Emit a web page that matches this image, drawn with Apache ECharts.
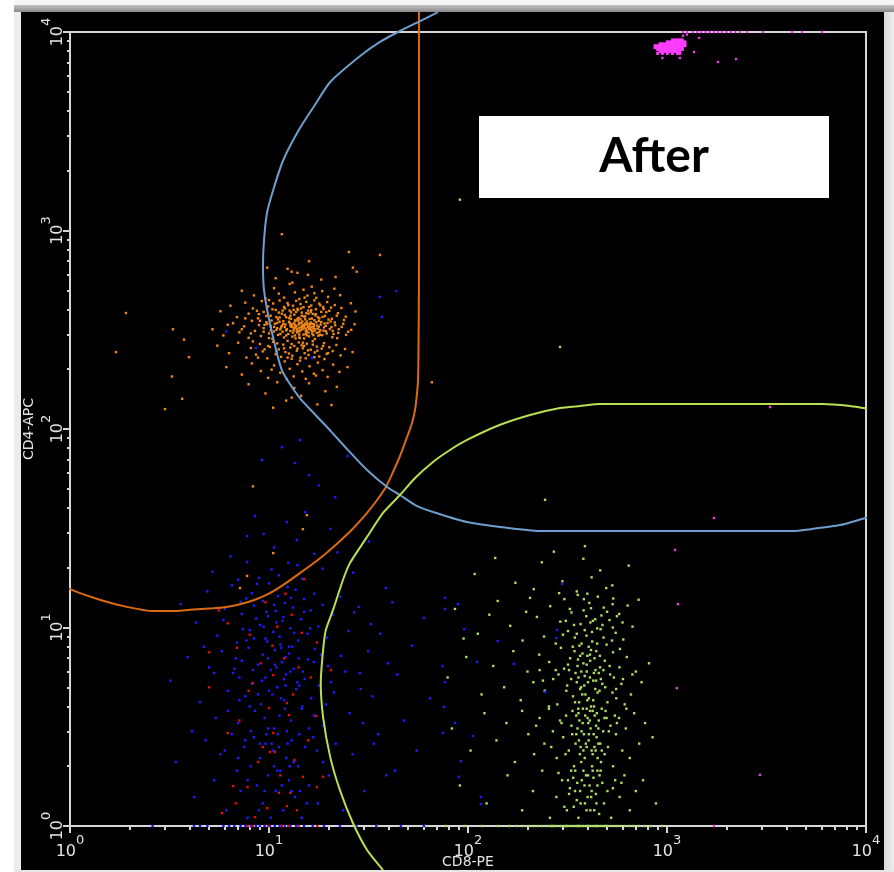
<!DOCTYPE html>
<html>
<head>
<meta charset="utf-8">
<title>CD4 / CD8</title>
<script src="https://cdn.jsdelivr.net/npm/echarts@6/dist/echarts.min.js"></script>
<style>
  html, body { margin: 0; padding: 0; background: #fff; }
  #chart { width: 894px; height: 872px; }
</style>
</head>
<body>
<div id="chart"></div>
<script>
// Axis ticks (CD8-PE on x, CD4-APC on y, both log decades)
const tickValues = [1, 10, 100, 1000, 10000];
const tickPowers = ['0', '1', '2', '3', '4'];
const minorTickValues = [2, 3, 4, 5, 6, 7, 8, 9, 20, 30, 40, 50, 60, 70, 80, 90,
  200, 300, 400, 500, 600, 700, 800, 900, 2000, 3000, 4000, 5000, 6000, 7000, 8000, 9000];

// Gates, as [CD8, CD4] vertices
const gateCD4 = [[56.7,12600],[56.7,2000],[56.7,800],[56.6,400],[56.4,260],[56.1,177],[55.3,148],[54.2,125],
  [52.0,105],[49.4,91.2],[46.8,78.5],[44.0,67.4],[41.3,58.6],[38.7,51.0],[35.0,44.0],[31.1,37.8],[26.0,31.0],
  [21.0,25.4],[17.4,21.7],[14.3,18.8],[12.0,16.6],[10.1,14.9],[8.5,13.8],[7.15,13.1],[6.1,12.7],[5.23,12.5],
  [4.01,12.3],[3.3,12.1],[2.61,12.1],[1.93,12.7],[1.41,13.8],[1.0,15.6],[0.749,18.2],[0.565,21.6]];
const gateMid = [[70.7,12600],[56.1,11220],[44.5,10000],[36.1,8910],[28.7,7570],[20.3,5600],[17.0,4290],
  [14.3,3280],[11.8,2265],[10.5,1600],[9.77,1225],[9.44,896],[9.33,670],[9.44,501],[10.1,342],[11.6,198],
  [14.3,143],[19.1,105],[24.4,80.2],[31.1,62.1],[39.2,51.0],[45.5,46.5],[54.2,41.4],[66.7,38.2],[98.9,34.0],
  [145,32.1],[230,30.6],[4250,30.6],[5420,31.4],[7400,32.8],[9550,35.2],[12300,37.8]];
const gateCD8 = [[12300,124.7],[10000,127],[8310,130.6],[6010,133.6],[461,133.6],[365,130.6],[290,127.6],
  [205,117.7],[145,105],[98.9,88.1],[81.2,78.4],[66.7,68.2],[54.2,56.6],[45.5,46.5],[37.4,37.8],[31.1,28.6],
  [25.5,21.1],[23.5,17.3],[21.0,12.3],[19.3,9.71],[18.7,7.70],[18.2,5.25],[18.7,3.54],[20.3,2.23],[22.7,1.52],
  [26.4,1.035],[31.1,0.757],[37.4,0.600]];

// CD4+ events
const eventsCD4 = [
  [12.4,641],[15.7,598],[10.8,575],[18.3,566],[13.9,612],[21.6,583],[25.2,779],[36.1,753],[15.9,700],[9.8,650],
  [13.0,620],[26.4,650],[27.6,620],[11.6,958],
  [8.4,471],[10.6,512],[11.9,459],[12.7,538],[13.5,488],[14.2,452],[14.9,503],[15.6,470],[16.4,521],[17.3,458],
  [18.5,495],[19.8,463],[21.3,509],[11.2,481],[13.1,546],[15.1,459],[16.9,483],[9.6,455],[22.8,472],[7.3,497],
  [5.7,392],[6.4,418],[6.9,366],[7.6,433],[7.9,381],[8.3,405],[8.8,361],[9.2,441],[9.4,389],[9.9,414],[10.2,372],
  [10.5,429],[10.8,398],[11.1,357],[11.3,444],[11.6,381],[11.9,412],[12.2,366],[12.4,431],[12.7,395],[12.9,359],
  [13.2,418],[13.4,377],[13.7,442],[13.9,403],[14.1,363],[14.4,426],[14.6,386],[14.9,411],[15.2,369],[15.4,437],
  [15.7,395],[16.0,358],[16.3,419],[16.6,380],[16.9,445],[17.2,401],[17.6,366],[17.9,428],[18.3,389],[18.7,412],
  [19.1,371],[19.6,436],[20.1,394],[20.7,359],[21.4,421],[22.2,383],[23.1,407],[24.3,368],[25.8,430],[27.2,391],
  [10.0,446],[12.0,375],[14.0,398],[16.2,388],
  [5.2,318],[5.9,296],[6.6,341],[7.1,307],[7.5,329],[7.9,288],[8.2,351],[8.5,312],[8.9,334],[9.1,294],[9.4,322],
  [9.7,345],[10.0,303],[10.2,328],[10.4,285],[10.7,339],[10.9,316],[11.1,298],[11.3,347],[11.5,325],[11.7,309],
  [11.9,289],[12.1,336],[12.3,318],[12.5,301],[12.7,343],[12.9,327],[13.1,292],[13.3,314],[13.5,352],[13.7,331],
  [13.9,306],[14.1,323],[14.3,287],[14.5,341],[14.7,318],[14.9,299],[15.1,334],[15.3,312],[15.5,348],[15.7,326],
  [15.9,293],[16.1,338],[16.3,315],[16.5,302],[16.8,329],[17.0,284],[17.3,345],[17.6,321],[17.9,308],[18.2,336],
  [18.5,297],[18.9,325],[19.3,311],[19.7,342],[20.2,319],[20.8,290],[21.5,333],[22.3,305],[23.2,327],[24.4,298],
  [25.9,316],[13.8,317],[14.6,329],[15.4,309],[16.7,321],[12.8,312],[11.6,331],[14.2,343],[15.0,286],
  [5.5,263],[6.3,241],[7.0,272],[7.7,229],[8.1,256],[8.6,237],[9.0,268],[9.3,246],[9.8,227],[10.1,259],[10.5,275],
  [10.8,238],[11.2,252],[11.5,231],[11.8,266],[12.1,244],[12.4,278],[12.8,257],[13.1,234],[13.4,262],[13.8,248],
  [14.1,273],[14.4,229],[14.8,255],[15.1,241],[15.5,269],[15.8,236],[16.2,251],[16.6,277],[17.0,243],[17.4,260],
  [17.9,232],[18.4,254],[18.9,271],[19.5,239],[20.1,258],[20.9,247],[21.8,265],[22.9,235],[24.1,253],[11.0,270],
  [13.0,226],[15.0,262],[16.9,230],[9.5,252],[19.0,225],[12.6,240],[14.6,264],[8.3,276],[26.3,244],
  [6.1,205],[7.3,188],[8.2,214],[9.1,196],[9.9,181],[10.6,209],[11.4,192],[12.0,219],[12.7,201],[13.3,184],
  [13.9,212],[14.7,195],[15.3,179],[16.0,207],[16.8,190],[17.6,216],[18.6,198],[19.7,183],[21.0,211],[22.6,194],
  [12.3,178],[14.3,221],[10.3,199],[17.2,186],[24.8,205],
  [7.9,168],[9.6,151],[11.0,172],[12.2,139],[13.4,161],[14.5,147],[15.9,170],[17.5,133],[19.2,155],[10.5,128],
  [13.0,144],[21.9,163],
  [10.3,352],[10.9,366],[11.4,301],[11.8,349],[12.2,296],[12.6,362],[13.0,338],[13.3,399],[13.6,286],[13.9,359],
  [14.3,311],[14.6,372],[14.8,335],[15.2,357],[15.5,296],[15.8,381],[16.1,322],[16.4,360],[16.7,297],[17.1,374],
  [17.4,332],[17.8,351],[18.1,315],[18.6,367],[19.0,340],[19.5,303],[12.9,387],[13.6,324],[14.0,352],[15.6,340],
  [16.9,353],[18.0,298],[11.0,322],[12.0,326],[10.6,310],[13.2,306],[14.9,369],[16.5,339],[17.7,295],[15.9,412],
  [12.5,421],[11.7,395],[18.8,402],[14.2,289],[20.4,348],[9.5,335],[8.9,379],[21.1,301],[13.5,333],[15.3,321],
  [13.1,329],[13.4,341],[13.8,309],[14.1,336],[14.4,316],[14.7,348],[15.0,328],[15.3,301],[15.6,335],[15.9,319],
  [16.2,344],[16.5,310],[16.8,337],[17.1,318],[17.4,305],[13.6,352],[14.2,299],[14.9,321],[15.5,313],[16.0,332],
  [12.6,347],[12.2,314],[11.8,338],[11.4,318],[11.0,342],[10.6,327],[10.2,314],[9.8,338],[9.4,309],[9.0,351],
  [17.8,328],[18.3,346],[18.8,313],[19.3,331],[19.9,356],[20.6,326],[21.4,344],[22.4,318],[23.6,339],[25.0,309],
  [12.0,405],[12.8,372],[13.7,389],[14.5,405],[15.4,383],[16.3,397],[17.2,379],[18.1,420],[11.2,386],[10.4,401],
  [9.7,371],[8.7,394],[7.6,361],[19.4,388],[20.5,409],[21.9,372],[13.0,268],[13.9,254],[14.8,272],[15.7,249],
  [16.6,266],[17.5,248],[11.9,255],[10.9,246],[9.9,262],[18.7,262],[8.8,229],[12.4,229],[15.3,227],[19.8,241],
  [14.0,312],[14.5,326],[15.2,340],[13.3,322],[16.4,326],[12.8,333],[15.8,306],[14.4,357],[13.5,296],[16.9,312],
  [11.3,365],[17.9,361],[10.0,287],[20.9,312],[7.3,318],[6.2,335],[23.8,354],[26.9,337],[8.1,303],[22.0,287],
  [1.91,384],[1.70,244],[3.0,126],[3.25,184],[3.66,142],[3.96,230],[3.74,282],[3.29,318],[8.3,51.4],[10.5,23.7],
  [7.76,18.2],[7.15,15.8],[20.6,132],[15.5,36.8],[14.8,31.3],[65.8,172]
];

// CD8+ events
const eventsCD8 = [
  [387,25.7],[137,22.4],[235,21.3],[380,22.2],[108,18.6],[462,19.4],[298,17.1],[531,16.3],[214,15.6],[642,20.5],
  [352,15.2],[418,17.9],[173,16.8],[270,24.1],[495,15.8],[244,44],[290,259],[91,1430],
  [86,12.4],[112,9.3],[141,13.6],[163,10.2],[188,8.6],[205,14.1],[222,11.3],[241,9.0],[259,12.8],[276,8.3],
  [291,10.7],[305,13.9],[318,9.6],[331,11.9],[344,8.9],[356,14.6],[368,10.4],[381,12.2],[394,9.1],[407,13.3],
  [421,8.5],[436,11.0],[449,14.3],[464,9.8],[481,12.6],[497,8.2],[514,10.9],[533,13.1],[552,9.4],[575,11.7],
  [603,8.7],[634,12.9],[671,10.1],[720,13.8],[95,8.8],[128,11.6],[196,12.0],[287,14.9],[363,8.1],[412,10.6],
  [468,11.5],[537,14.0],[446,9.9],[325,12.4],[398,14.8],
  [79,5.6],[98,7.1],[117,4.6],[134,6.4],[152,5.0],[169,7.6],[184,4.3],[199,6.0],[213,5.3],[228,7.3],[243,4.8],
  [256,6.7],[268,5.5],[281,4.1],[293,7.9],[304,6.2],[315,5.1],[326,7.0],[337,4.5],[347,5.9],[357,6.9],[366,4.9],
  [376,7.4],[386,5.7],[395,6.5],[405,4.4],[415,7.7],[426,5.4],[437,6.1],[448,4.7],[460,7.2],[473,5.2],[487,6.8],
  [502,4.2],[518,5.8],[536,7.5],[555,4.9],[577,6.3],[601,5.5],[628,7.1],[659,4.6],[697,6.0],[745,5.3],[812,6.6],
  [352,5.3],[371,6.0],[389,4.6],[410,5.6],[432,7.0],[454,5.9],[343,7.6],[398,7.2],[362,4.2],[426,4.3],[479,6.1],
  [318,6.5],[285,5.8],[229,6.1],[541,5.6],[613,4.1],
  [83,3.1],[103,2.4],[121,3.7],[139,2.7],[156,3.3],[172,2.1],[187,3.8],[201,2.9],[215,2.3],[229,3.5],[242,2.6],
  [255,3.9],[267,3.0],[279,2.2],[290,3.4],[301,2.8],[311,3.6],[321,2.4],[331,3.2],[341,2.0],[350,2.9],[359,3.7],
  [368,2.5],[377,3.3],[386,2.2],[395,3.9],[404,2.7],[413,3.1],[423,2.3],[433,3.6],[443,2.8],[454,3.4],[466,2.1],
  [478,3.0],[491,3.8],[505,2.5],[520,3.2],[536,2.0],[554,2.9],[574,3.5],[596,2.4],[621,3.1],[650,2.2],[684,3.7],
  [725,2.6],[776,3.3],[846,2.8],[363,3.4],[382,2.9],[399,3.5],[418,2.4],[440,3.2],[347,2.6],[371,2.1],[391,2.6],
  [428,2.9],[462,2.6],[335,3.8],[410,3.8],[486,2.3],[309,2.3],[262,2.5],[547,3.6],[355,3.1],[448,2.2],
  [91,1.6],[124,1.3],[158,1.8],[187,1.2],[212,1.5],[236,1.9],[258,1.1],[278,1.4],[297,1.7],[314,1.2],[330,1.9],
  [345,1.5],[359,1.1],[373,1.7],[387,1.3],[401,1.8],[416,1.4],[431,1.2],[447,1.6],[464,1.9],[482,1.3],[502,1.5],
  [524,1.1],[549,1.7],[578,1.4],[611,1.8],[650,1.2],[697,1.5],[758,1.7],[880,1.3],[366,1.5],[380,1.9],[394,1.2],
  [408,1.6],[352,1.35],[338,1.75],[423,1.9],[439,1.45],[456,1.15],[473,1.65],[325,1.55],[305,1.25],[285,1.85],
  [535,1.55],[590,1.65],
  [300,9.2],[322,6.1],[341,10.3],[358,3.9],[372,8.3],[384,5.1],[393,11.4],[402,3.3],[411,6.8],[420,9.5],
  [430,4.0],[441,7.6],[452,2.6],[465,5.5],[480,8.9],[497,3.5],[515,6.4],[534,10.0],[556,4.4],[580,7.8],
  [380,2.4],[392,1.8],[405,2.9],[418,1.5],[432,2.5],[447,1.9],[361,2.7],[346,1.9],[334,2.9],[318,1.7],
  [375,4.6],[388,3.6],[401,5.3],[415,4.0],[429,5.9],[444,3.7],[458,4.8],[372,3.0],[359,5.6],[345,4.2],
  [330,5.5],[312,4.8],[295,3.3],[276,6.1],[255,4.0],[238,5.4],[220,3.2],[470,3.9],[489,5.0],[510,3.0],
  [532,4.7],[560,3.3],[590,5.2],[625,3.9],[670,5.8],[366,7.2],[386,9.7],[404,8.0],[424,10.8],[446,8.3],
  [352,9.3],[336,8.0],[310,10.8],[474,10.3],[500,12.0],[529,8.6],[560,11.4],[598,10.6],[382,13.9],[415,12.5],
  [368,1.3],[385,1.6],[399,1.4],[412,1.2],[427,1.75],[442,1.3],[458,1.8],[354,1.65],[340,1.25],[322,1.45],
  [378,3.9],[395,2.5],[409,3.4],[423,3.8],[438,2.4],[452,3.1],[365,2.3],[350,3.6],[470,2.4],[485,3.5],
  [395,6.0],[410,7.3],[380,6.6],[436,4.9],[461,6.3],[355,6.4],[420,2.0],[440,5.4],[398,4.3],[370,5.0],
  [35,1],[61,1],[77,1],[96,1],[118,1],[142,1],[161,1],[176,1],[189,1],[201,1],[213,1],[224,1],[236,1],[247,1],
  [259,1],[270,1],[282,1],[293,1],[305,1],[317,1],[329,1],[341,1],[354,1],[366,1],[379,1],[392,1],[406,1],[420,1],
  [435,1],[450,1],[466,1],[483,1],[501,1],[520,1],[541,1],[563,1],[588,1],[615,1],[645,1],[680,1],[720,1],[770,1],
  [830,1],[945,1],[265,1],[311,1],[358,1],[399,1],[443,1],[492,1]
];

// Double-negative events
const eventsDN = [
  [14.3,88],[13.5,67.4],[9.2,69.8],[17.8,52],[11.6,81],[21.5,45.3],[15.9,58.5],[24.8,73],
  [12.3,34],[7.75,28.9],[7.75,21.4],[9.4,29.6],[12.5,21.2],[7.0,17.4],[10.6,25.3],[15.2,38.1],[18.6,19.8],
  [20.4,31.4],[6.4,22.8],[11.2,18.3],[13.8,27.6],[16.9,23.5],[8.5,36.4],[26.5,18.9],[31.8,27.1],[22.1,23.9],
  [5.2,19.1],[14.7,17.6],
  [3.6,13.1],[4.3,10.6],[4.9,15.2],[5.5,9.1],[6.0,12.4],[6.5,16.3],[6.9,8.4],[7.3,11.7],[7.7,14.0],[8.0,9.7],
  [8.4,12.9],[8.7,16.6],[9.0,10.3],[9.3,13.6],[9.6,8.8],[9.9,11.4],[10.2,15.0],[10.5,9.5],[10.8,12.1],[11.1,14.4],
  [11.4,8.2],[11.7,10.8],[12.0,13.3],[12.4,16.0],[12.8,9.9],[13.2,12.6],[13.6,15.5],[14.0,8.6],[14.5,11.0],
  [15.0,13.9],[15.6,9.3],[16.2,12.2],[16.9,14.8],[17.7,10.1],[18.6,13.0],[19.6,8.9],[21.0,11.6],[22.8,14.3],
  [25.1,9.6],[28.2,12.7],[32.5,10.4],[38.6,15.8],[10.0,16.7],[12.6,8.0],[8.2,14.9],
  [3.2,5.4],[3.9,7.1],[4.5,4.2],[5.0,6.3],[5.4,3.5],[5.8,7.6],[6.2,4.8],[6.6,5.9],[7.0,3.3],[7.3,6.8],[7.6,4.5],
  [7.9,7.9],[8.2,5.2],[8.5,3.8],[8.8,6.5],[9.1,4.1],[9.3,7.3],[9.6,5.6],[9.9,3.1],[10.2,6.1],[10.4,4.6],[10.7,7.7],
  [11.0,5.0],[11.3,3.6],[11.6,6.7],[11.9,4.3],[12.2,5.8],[12.6,7.4],[12.9,3.4],[13.3,6.2],[13.7,4.9],[14.1,7.0],
  [14.6,3.9],[15.1,5.5],[15.7,6.9],[16.3,4.4],[17.0,7.8],[17.8,5.1],[18.7,3.2],[19.8,6.4],[21.2,4.7],[23.0,7.2],
  [25.4,3.7],[28.6,5.9],[33.1,4.5],[39.5,6.6],[6.8,7.0],[8.0,4.0],[9.5,3.5],[10.9,6.3],[12.3,3.0],[13.9,5.3],
  [7.1,5.6],[11.5,7.9],[16.8,3.6],[4.1,3.0],[24.2,6.0],[29.7,3.3],[14.8,6.0],[20.5,5.3],
  [3.4,2.1],[4.2,1.4],[4.8,2.7],[5.3,1.7],[5.7,2.3],[6.1,1.2],[6.5,2.9],[6.9,1.9],[7.2,1.5],[7.5,2.5],[7.8,1.1],
  [8.1,2.0],[8.4,2.8],[8.7,1.6],[9.0,2.2],[9.3,1.3],[9.6,2.6],[9.9,1.8],[10.2,1.1],[10.5,2.4],[10.8,1.5],[11.1,2.9],
  [11.4,1.9],[11.8,1.2],[12.2,2.2],[12.6,1.7],[13.0,2.7],[13.5,1.4],[14.0,2.0],[14.6,1.1],[15.2,2.5],[15.9,1.6],
  [16.7,2.8],[17.6,1.3],[18.7,2.1],[20.0,1.8],[21.6,2.6],[23.6,1.2],[26.3,2.3],[30.1,1.5],[35.4,2.9],[43.0,1.9],
  [55.2,2.4],[7.0,2.2],[8.9,1.2],[10.6,2.0],[12.4,2.6],[14.3,1.5],[9.7,2.9],[11.6,1.6],
  [6.7,6.2],[7.4,9.8],[8.1,3.0],[8.6,11.1],[9.2,5.4],[9.8,8.5],[10.3,2.6],[10.9,10.6],[11.5,4.4],[12.1,7.1],
  [12.7,2.0],[13.4,9.4],[14.2,5.1],[15.0,12.0],[15.9,3.1],[16.8,6.7],[7.8,1.7],[9.0,2.6],[10.0,4.8],[11.0,1.9],
  [12.0,3.9],[13.0,1.5],[14.2,2.9],[8.4,8.8],[9.4,10.1],[10.6,13.0],[11.8,11.3],[12.9,14.1],[6.2,3.8],[5.3,5.9],
  [7.1,4.3],[8.8,4.6],[10.6,3.1],[11.9,5.5],[13.1,8.0],[14.7,4.0],[16.1,9.9],[17.4,2.4],[18.3,7.3],[19.3,4.1],
  [6.0,2.4],[7.6,2.7],[9.5,1.5],[11.2,2.5],[13.3,2.1],[15.5,1.3],[4.7,8.0],[5.9,10.9],[7.2,13.5],[8.9,17.8],
  [10.3,19.6],[13.9,20.6],[12.1,5.1],[9.9,7.0],[11.3,9.0],[8.3,6.1],[10.7,6.5],[12.8,6.0],[7.7,8.6],[9.7,12.0],
  [76.6,14.1],[89,13.1],[76.6,12.4],[95.5,9.8],[141,8.55],[74.5,6.4],[111,6.7],[76.6,5.3],[244,4.73],[75.8,3.98],
  [86,3.31],[106,2.84],[74.9,2.94],[92,2.12],[90,1.77],[116,1.4],[116,1.29],[297,16.6],[280,9.71],[278,8.85],
  [170,6.55],[26.8,11.9],[31.5,7.6],[28.9,4.9],[36.2,9.3],[41.7,13.4],[33.6,2.6],[44.1,5.8],[38.8,1.8],[52.3,8.1],
  [47.5,3.4],[60.1,11.2],[64.5,4.4],
  [36,463],[37,367],[43.6,495],[16.4,228],[8.6,256],[6.1,310],
  [2.6,1],[4.2,1],[4.5,1],[4.9,1],[5.9,1],[6.3,1],[6.7,1],[7.2,1],[7.6,1],[8.1,1],[8.6,1],[9.0,1],[9.5,1],[10.1,1],
  [10.7,1],[11.3,1],[12.0,1],[12.8,1],[13.7,1],[15.0,1],[16.6,1],[18.9,1],[22.7,1],[27.5,1],[34.6,1],[46,1],[60,1]
];

// Dead / debris events
const eventsDebris = [
  [15.0,17.5],[11.0,10.1],[6.2,10.5],[5.0,7.5],[5.0,5.0],[6.9,7.9],[8.3,5.25],[13.0,11.6],[17.4,8.4],[13.2,4.6],
  [12.3,4.16],[10.5,2.94],[13.4,2.15],[10.1,2.36],[7.8,1.57],[6.6,1.59],[9.8,1.23],[12.3,1.26],[8.5,1.11],[5.8,1.16],
  [17.4,1.57],[17.2,3.58],[18.7,1.77],[14.8,1.77],[11.2,1.47],
  [7.9,4.8],[10.5,5.75],[10.0,3.93],[10.7,2.36],[9.3,2.5],[12.6,3.62],[12.8,1.47],[6.2,2.94],[8.0,9.2],[9.1,6.6],
  [11.9,7.0],[14.1,6.3],[15.7,2.7],[16.2,5.6],[7.1,3.4],[9.6,13.4],[12.1,14.8],[20.5,6.1],[5.6,12.2],[11.4,1.8],
  [14.6,9.4],[8.8,2.1],[13.8,1.2],[10.4,8.1],[6.8,1.3],
  [7.8,1],[8.3,1],[9.9,1],[11.6,1],[12.5,1],[14.1,1],[17.5,1]
];

// Beads: tight cluster near the top of both scales
const eventsBeads = [
  [1065,9120],[1096,9120],[1128,9120],[1160,9120],[1195,9120],
  [1005,8920],[1036,8920],[1065,8920],[1096,8920],[1128,8920],[1160,8920],[1195,8920],[1231,8920],
  [922,8720],[948,8720],[976,8720],[1005,8720],[1036,8720],[1065,8720],[1096,8720],[1128,8720],[1160,8720],[1195,8720],[1231,8720],
  [871,8530],[898,8530],[922,8530],[948,8530],[976,8530],[1005,8530],[1036,8530],[1065,8530],[1096,8530],[1128,8530],[1160,8530],[1195,8530],[1231,8530],
  [871,8340],[898,8340],[922,8340],[948,8340],[976,8340],[1005,8340],[1036,8340],[1065,8340],[1096,8340],[1128,8340],[1160,8340],[1195,8340],
  [898,8160],[922,8160],[948,8160],[976,8160],[1005,8160],[1036,8160],[1065,8160],[1096,8160],[1128,8160],[1160,8160],[1195,8160],
  [922,7980],[948,7980],[976,7980],[1005,7980],[1036,7980],[1065,7980],[1096,7980],[1128,7980],[1160,7980],
  [898,7800],[948,7800],[1005,7800],[1065,7800],[1128,7800],[1160,7800]
];
const eventsBeadsSpread = [
  [1203,10000],[1260,10000],[1350,10000],[1420,10000],[1490,10000],[1560,10000],[1640,10000],[1720,10000],
  [1800,10000],[1890,10000],[1990,10000],[2090,10000],[2200,10000],[2330,10000],[2520,10000],[3030,10000],
  [4250,10000],[4770,10000],[6000,10000],
  [1449,9330],[1367,7930],[1160,7400],[1803,7060],[2222,7310],[948,7400],[1203,9560],[1260,9700],
  [1097,24.6],[1135,13.1],[1120,4.95],[1722,35.6],[3296,129],[2931,1.81],[1722,1]
];

const AXIS_COLOR = '#d6d6d6';
const LABEL_COLOR = '#e4e4e4';
const FONT = 'DejaVu Sans';

function powerLabel(v) {
  for (let i = 0; i < tickValues.length; i++) {
    if (Math.abs(v - tickValues[i]) / tickValues[i] < 1e-6) {
      return '{b|10}{s|' + tickPowers[i] + '}';
    }
  }
  return '';
}
// "10" sits low in a tall line box, the exponent hugs the top
const labelRich = {
  b: { fontSize: 16, fontFamily: FONT, color: LABEL_COLOR, lineHeight: 26, verticalAlign: 'bottom' },
  s: { fontSize: 13, fontFamily: FONT, color: LABEL_COLOR, lineHeight: 13, verticalAlign: 'top' }
};

function majorAxis(dim) {
  const isX = dim === 'x';
  return {
    type: 'log', logBase: 10, min: 1, max: 10000, gridIndex: 0,
    position: isX ? 'bottom' : 'left',
    name: isX ? 'CD8-PE' : 'CD4-APC',
    nameLocation: 'middle',
    nameGap: isX ? 29 : 34,
    nameRotate: isX ? 0 : 90,
    nameMoveOverlap: false,
    nameTextStyle: { color: LABEL_COLOR, fontFamily: FONT, fontSize: 14 },
    axisLine: { show: true, lineStyle: { color: AXIS_COLOR, width: 2 } },
    axisTick: { show: true, inside: false, length: 7, customValues: tickValues, lineStyle: { color: AXIS_COLOR, width: 2 } },
    axisLabel: {
      show: true, customValues: tickValues, formatter: powerLabel, rich: labelRich,
      margin: isX ? 8 : 4, rotate: isX ? 0 : 90
    },
    splitLine: { show: false },
    minorTick: { show: false }
  };
}
function minorAxis(dim) {
  const isX = dim === 'x';
  return {
    type: 'log', logBase: 10, min: 1, max: 10000, gridIndex: 0,
    position: isX ? 'bottom' : 'left',
    axisLine: { show: false },
    axisTick: { show: true, inside: false, length: isX ? 4 : 3, customValues: minorTickValues, lineStyle: { color: AXIS_COLOR, width: 2 } },
    axisLabel: { show: false },
    splitLine: { show: false }
  };
}

function dots(name, data, color, size) {
  return {
    type: 'scatter', name: name, data: data, xAxisIndex: 0, yAxisIndex: 0,
    symbol: 'rect', symbolSize: size, clip: false, silent: true, z: 2,
    itemStyle: { color: color, opacity: 1 }
  };
}
function gate(name, data, color, smooth) {
  return {
    type: 'line', name: name, data: data, xAxisIndex: 0, yAxisIndex: 0,
    showSymbol: false, symbol: 'none', clip: false, silent: true, smooth: smooth, z: 4,
    lineStyle: { color: color, width: 2 }
  };
}

const chart = echarts.init(document.getElementById('chart'), null, { renderer: 'canvas' });
chart.setOption({
  backgroundColor: '#000',
  animation: false,
  grid: {
    left: 70, top: 32, width: 796, height: 794,
    show: true, borderColor: AXIS_COLOR, borderWidth: 2, backgroundColor: 'transparent',
    containLabel: false, outerBoundsMode: 'none'
  },
  xAxis: [majorAxis('x'), minorAxis('x')],
  yAxis: [majorAxis('y'), minorAxis('y')],
  series: [
    dots('CD8+', eventsCD8, '#acdc62', 2.4),
    dots('CD4-CD8-', eventsDN, '#1c1cff', 2.4),
    dots('debris', eventsDebris, '#e01010', 2.4),
    dots('CD4+', eventsCD4, '#f08818', 2.4),
    dots('beads', eventsBeads, '#ff3cff', 3),
    dots('beads spread', eventsBeadsSpread, '#e040e0', 2.4),
    gate('CD4 gate', gateCD4, '#dc6a12', 0.2),
    gate('T cell gate', gateMid, '#6e9fce', 0.2),
    gate('CD8 gate', gateCD8, '#b8e050', 0.2)
  ],
  graphic: [
    { type: 'rect', z: 100, silent: true, shape: { x: 0, y: 0, width: 894, height: 6 }, style: { fill: '#f6f6f6' } },
    { type: 'rect', z: 100, silent: true, shape: { x: 14, y: 5, width: 880, height: 7 },
      style: { fill: new echarts.graphic.LinearGradient(0, 0, 0, 1, [{ offset: 0, color: '#c4c4c4' }, { offset: 1, color: '#8a8a8a' }]) } },
    { type: 'rect', z: 100, silent: true, shape: { x: 0, y: 0, width: 14, height: 872 }, style: { fill: '#ffffff' } },
    { type: 'rect', z: 100, silent: true, shape: { x: 14, y: 12, width: 7, height: 860 }, style: { fill: '#ececec' } },
    { type: 'rect', z: 100, silent: true, shape: { x: 884, y: 12, width: 10, height: 860 },
      style: { fill: new echarts.graphic.LinearGradient(0, 0, 1, 0, [{ offset: 0, color: '#d8d8d8' }, { offset: 1, color: '#eeeeee' }]) } },
    { type: 'rect', z: 100, silent: true, shape: { x: 14, y: 870, width: 880, height: 2 }, style: { fill: '#e6e6e6' } },
    { type: 'rect', z: 110, silent: true, shape: { x: 479, y: 116, width: 350, height: 82 }, style: { fill: '#ffffff' } },
    { type: 'text', z: 111, silent: true, x: 654, y: 157,
      style: { text: 'After', font: 'bold 48px Lato', fill: '#000', align: 'center', verticalAlign: 'middle' } }
  ]
});
</script>
</body>
</html>
